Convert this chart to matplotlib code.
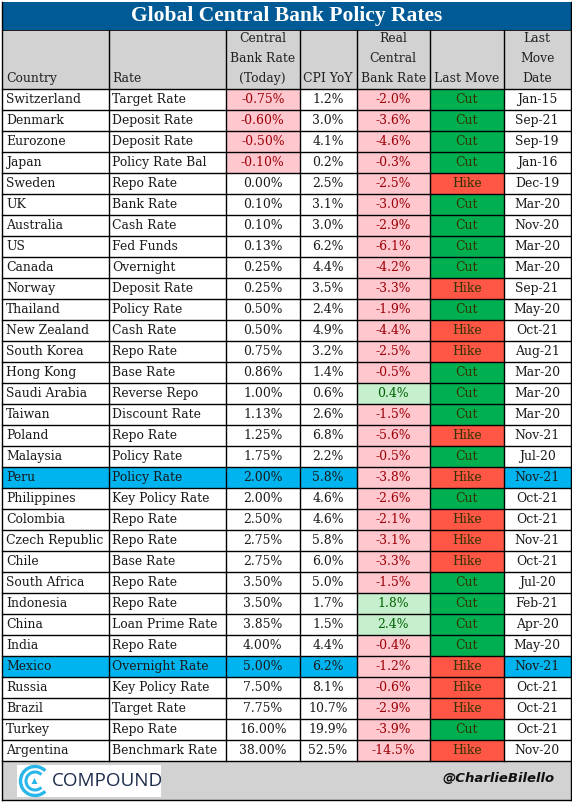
import matplotlib
matplotlib.use("Agg")
import matplotlib.pyplot as plt
from matplotlib.patches import Rectangle, Arc, Polygon

countries = ["Switzerland","Denmark","Eurozone","Japan","Sweden","UK","Australia","US","Canada","Norway","Thailand","New Zealand","South Korea","Hong Kong","Saudi Arabia","Taiwan","Poland","Malaysia","Peru","Philippines","Colombia","Czech Republic","Chile","South Africa","Indonesia","China","India","Mexico","Russia","Brazil","Turkey","Argentina"]
rate_names = ["Target Rate","Deposit Rate","Deposit Rate","Policy Rate Bal","Repo Rate","Bank Rate","Cash Rate","Fed Funds","Overnight","Deposit Rate","Policy Rate","Cash Rate","Repo Rate","Base Rate","Reverse Repo","Discount Rate","Repo Rate","Policy Rate","Policy Rate","Key Policy Rate","Repo Rate","Repo Rate","Base Rate","Repo Rate","Repo Rate","Loan Prime Rate","Repo Rate","Overnight Rate","Key Policy Rate","Target Rate","Repo Rate","Benchmark Rate"]
cb_rate = [-0.75,-0.60,-0.50,-0.10,0.00,0.10,0.10,0.13,0.25,0.25,0.50,0.50,0.75,0.86,1.00,1.13,1.25,1.75,2.00,2.00,2.50,2.75,2.75,3.50,3.50,3.85,4.00,5.00,7.50,7.75,16.00,38.00]
cpi = [1.2,3.0,4.1,0.2,2.5,3.1,3.0,6.2,4.4,3.5,2.4,4.9,3.2,1.4,0.6,2.6,6.8,2.2,5.8,4.6,4.6,5.8,6.0,5.0,1.7,1.5,4.4,6.2,8.1,10.7,19.9,52.5]
real_rate = [-2.0,-3.6,-4.6,-0.3,-2.5,-3.0,-2.9,-6.1,-4.2,-3.3,-1.9,-4.4,-2.5,-0.5,0.4,-1.5,-5.6,-0.5,-3.8,-2.6,-2.1,-3.1,-3.3,-1.5,1.8,2.4,-0.4,-1.2,-0.6,-2.9,-3.9,-14.5]
last_move = ["Cut","Cut","Cut","Cut","Hike","Cut","Cut","Cut","Cut","Hike","Cut","Hike","Hike","Cut","Cut","Cut","Hike","Cut","Hike","Cut","Hike","Hike","Hike","Cut","Cut","Cut","Cut","Hike","Hike","Hike","Cut","Hike"]
move_date = ["Jan-15","Sep-21","Sep-19","Jan-16","Dec-19","Mar-20","Nov-20","Mar-20","Mar-20","Sep-21","May-20","Oct-21","Aug-21","Mar-20","Mar-20","Mar-20","Nov-21","Jul-20","Nov-21","Oct-21","Oct-21","Nov-21","Oct-21","Jul-20","Feb-21","Apr-20","May-20","Nov-21","Oct-21","Oct-21","Oct-21","Nov-20"]
headers = ["Country","Rate","Central\nBank Rate\n(Today)","CPI YoY","Real\nCentral\nBank Rate","Last Move","Last\nMove\nDate"]
highlight = ["Peru","Mexico"]

FONT = "DejaVu Serif"
FS = 8.9
edges = [2, 108.5, 226, 299.5, 356.5, 430, 503.5, 571]
T0, T1, H1, ROW = 1.5, 29.5, 88.5, 21.0
n = len(countries)
BOT = H1 + n*ROW
FOOT = 799.5
BLUE, GREY, CYAN = "#005a96", "#d2d2d2", "#00b4f0"
PINK, LGREEN, GREEN, RED = "#ffc7ce", "#c6efce", "#00b050", "#ff5645"
DRED, DGREEN = "#9c0006", "#006100"
BASE = 3.6

fig = plt.figure(figsize=(5.72, 8.02), dpi=100, facecolor="white")
ax = fig.add_axes([0, 0, 1, 1])
ax.set_xlim(0, 572); ax.set_ylim(802, 0); ax.axis("off")

def rect(x0, y0, x1, y1, c, z=1):
    ax.add_patch(Rectangle((x0, y0), x1-x0, y1-y0, fc=c, ec="none", zorder=z))

def cell(j, cy, s, col):
    if j < 2:
        ax.text(edges[j]+4, cy+BASE, s, fontsize=FS, family=FONT, ha="left", va="baseline", color=col, zorder=5)
    else:
        ax.text((edges[j]+edges[j+1])/2, cy+BASE, s, fontsize=FS, family=FONT, ha="center", va="baseline", color=col, zorder=5)

rect(edges[0], T0, edges[-1], T1, BLUE)
ax.text((edges[0]+edges[-1])/2, 21.5, "Global Central Bank Policy Rates", color="white",
        fontsize=15.5, fontweight="bold", family="Liberation Serif", ha="center", va="baseline", zorder=5)
rect(edges[0], T1, edges[-1], H1, GREY)
rect(edges[0], BOT, edges[-1], FOOT, GREY)

for j, h in enumerate(headers):
    lines = h.split("\n")
    for k, line in enumerate(reversed(lines)):
        cell(j, H1 - 10.5 - k*20, line, "#222222")

for i in range(n):
    top = H1 + i*ROW; bot = top + ROW; cy = top + ROW/2
    if countries[i] in highlight:
        rect(edges[0], top, edges[-1], bot, CYAN)
    if cb_rate[i] < 0:
        rect(edges[2], top, edges[3], bot, PINK, 2)
    rect(edges[4], top, edges[5], bot, PINK if real_rate[i] < 0 else LGREEN, 2)
    rect(edges[5], top, edges[6], bot, GREEN if last_move[i] == "Cut" else RED, 2)
    row = [countries[i], rate_names[i], f"{cb_rate[i]:.2f}%", f"{cpi[i]:.1f}%", f"{real_rate[i]:.1f}%", last_move[i], move_date[i]]
    for j, s in enumerate(row):
        col = "#1a1a1a"
        if j == 2 and cb_rate[i] < 0: col = DRED
        if j == 4: col = DRED if real_rate[i] < 0 else DGREEN
        if j == 5: col = "#333300"
        cell(j, cy, s, col)
    ax.plot([edges[0], edges[-1]], [bot, bot], color="black", lw=1, zorder=4)

ax.plot([edges[0], edges[-1]], [H1, H1], color="black", lw=1, zorder=4)
for x in edges:
    outer = x in (edges[0], edges[-1])
    ax.plot([x, x], [T0 if outer else T1, FOOT if outer else BOT], color="black", lw=1, zorder=4)
ax.plot([edges[0], edges[-1]], [FOOT, FOOT], color="black", lw=1, zorder=4)
ax.plot([edges[0], edges[-1]], [T1, T1], color="black", lw=0.6, zorder=4)

# footer logo
rect(16.5, 765, 161, 797, "white", 3)
c = (35, 781)
ax.add_patch(Arc(c, 29, 29, theta1=45, theta2=315, color="#29b6e8", lw=2.4, zorder=5))
ax.add_patch(Arc(c, 18, 18, theta1=45, theta2=315, color="#29b6e8", lw=2.2, zorder=5))
ax.add_patch(Polygon([(31.5, 784), (37.5, 784), (34.5, 778)], fc="#29b6e8", ec="none", zorder=5))
ax.text(52, 781.5, "COMPOUND", fontsize=13.6, family="Open Sans", color="#1d2c4c", ha="left", va="center", zorder=5)
ax.text(555, 779, "@CharlieBilello", fontsize=9.5, family="DejaVu Sans", style="italic", fontweight="bold",
        color="#111111", ha="right", va="center", zorder=5)

fig.savefig("out.png", dpi=100)
